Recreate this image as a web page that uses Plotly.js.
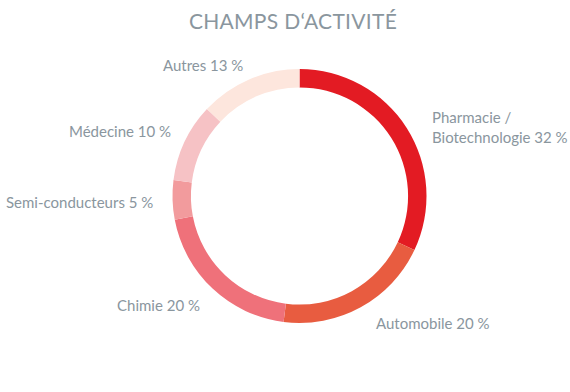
<!DOCTYPE html>
<html>
<head>
<meta charset="utf-8">
<script src="https://cdn.plot.ly/plotly-3.0.1.min.js"></script>
<style>
html,body{margin:0;padding:0;background:#fff;}
#chart{width:570px;height:392px;}
</style>
</head>
<body>
<div id="chart"></div>
<script>
const categories = ['Pharmacie / Biotechnologie', 'Automobile', 'Chimie', 'Semi-conducteurs', 'Médecine', 'Autres'];
const values = [32, 20, 20, 5, 10, 13];
const labelTexts = ['Pharmacie /<br>Biotechnologie 32 %', 'Automobile 20 %', 'Chimie 20 %', 'Semi-conducteurs 5 %', 'Médecine 10 %', 'Autres 13 %'];
const colors = ['#E31B23', '#E85C40', '#EF717A', '#F29B9D', '#F6C2C5', '#FDE6DD'];

const labelPos = [
  {x: 430, y: 127},
  {x: 374, y: 323},
  {x: 115, y: 305},
  {x: 4, y: 202},
  {x: 67, y: 131},
  {x: 161, y: 65}
];

const W = 570, H = 392;
const annotations = labelTexts.map((t, i) => ({
  text: t,
  x: labelPos[i].x / W,
  y: 1 - labelPos[i].y / H,
  xref: 'paper', yref: 'paper',
  xanchor: 'left', yanchor: 'middle',
  align: 'left',
  showarrow: false,
  font: {family: 'Lato, sans-serif', size: 15, color: '#8A969E'}
}));

const cx = 299.5, cy = 196, r = 127;
const data = [{
  type: 'pie',
  labels: categories,
  values: values,
  sort: false,
  direction: 'clockwise',
  rotation: 0,
  hole: 0.855,
  textinfo: 'none',
  hoverinfo: 'label+percent',
  marker: {colors: colors, line: {width: 0}},
  domain: {x: [(cx - r) / W, (cx + r) / W], y: [(H - cy - r) / H, (H - cy + r) / H]},
  showlegend: false
}];

const layout = {
  width: W, height: H,
  margin: {l: 0, r: 0, t: 0, b: 0},
  paper_bgcolor: '#fff',
  title: {
    text: 'CHAMPS D\u2018ACTIVITÉ',
    x: 293 / W, xanchor: 'center',
    y: 1 - 22 / H, yanchor: 'middle',
    font: {family: 'Lato, sans-serif', size: 21, color: '#8A969E'}
  },
  annotations: annotations
};

Plotly.newPlot('chart', data, layout, {staticPlot: true}).then(() => {
  document.querySelectorAll('.gtitle').forEach(el => el.style.letterSpacing = '0.3px');
});
</script>
</body>
</html>
